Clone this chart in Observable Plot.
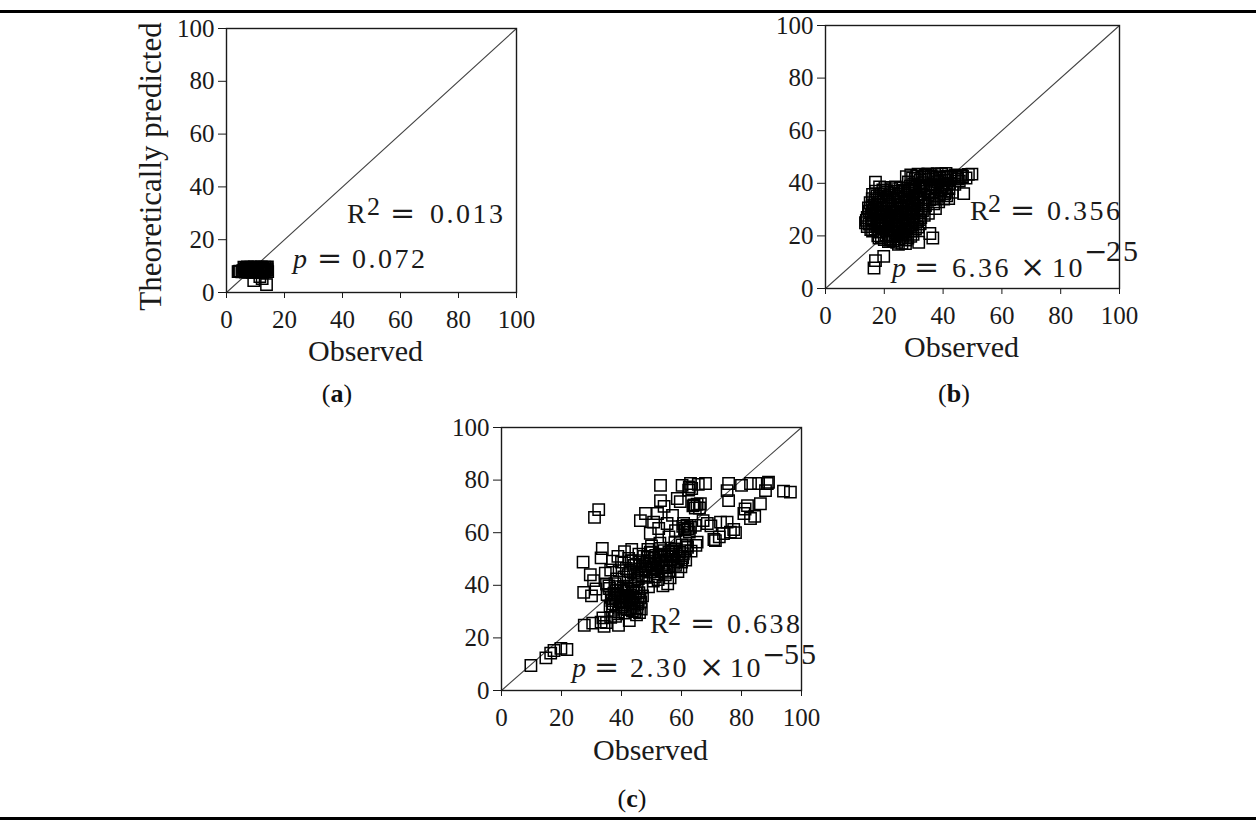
<!DOCTYPE html>
<html>
<head>
<meta charset="utf-8">
<script src="https://cdn.jsdelivr.net/npm/d3@7"></script>
<script src="https://cdn.jsdelivr.net/npm/@observablehq/plot@0.6"></script>
<style>
  html, body { margin: 0; padding: 0; background: #fff; }
  #fig { position: relative; width: 1256px; height: 832px; overflow: hidden; font-family: "Liberation Serif", serif; color: #111; }
  .rule { position: absolute; left: 0; width: 1256px; height: 3px; background: #000; z-index: 10; }
  .cap { position: absolute; font-size: 26px; line-height: 1; transform: translateX(-50%); white-space: nowrap; z-index: 5; }
  .panel { position: absolute; }
  .panel svg { overflow: visible; }
</style>
</head>
<body>
<div id="fig">
  <div class="panel" id="pa"></div>
  <div class="panel" id="pb"></div>
  <div class="panel" id="pc"></div>
  <div class="rule" style="top:10px"></div>
  <div class="rule" style="top:817px"></div>
  <div class="cap" id="capa"></div>
  <div class="cap" id="capb"></div>
  <div class="cap" id="capc"></div>
</div>
<script>
// ---------------- DATA ----------------
const tickValues = [0, 20, 40, 60, 80, 100];
const identityLine = [0, 100];
const xTitle = "Observed";
const yTitle = "Theoretically predicted";
const panelLetters = ["a", "b", "c"];
const r2Values = ["0.013", "0.356", "0.638"];
const pMantissa = ["0.072", "6.36", "2.30"];
const pExponent = [null, "25", "55"];

// Panel (a)
const aObs = [4.0,4.6,5.3,5.9,6.5,7.1,7.7,8.3,8.9,9.5,10.1,10.7,11.3,11.9,12.5,13.1,13.7,14.2,
  4.3,5.6,6.2,6.8,7.4,8.0,8.6,9.2,9.8,10.4,11.0,11.6,12.2,12.8,13.4,14.0,
  6.0,6.6,7.2,7.8,8.4,9.0,9.6,10.2,10.8,11.4,12.0,12.6,13.2,13.8,14.1,
  9.4,12.3,13.8,11.5];
const aPred = [7.9,8.1,7.8,8.2,7.7,8.0,7.6,8.1,7.6,7.9,7.6,8.0,7.6,7.9,7.6,8.0,7.7,7.9,
  8.0,8.3,8.8,8.5,9.0,8.6,8.9,8.4,8.8,8.5,9.0,8.6,8.9,8.4,8.8,8.6,
  9.6,9.3,9.7,9.2,9.6,9.3,9.7,9.2,9.6,9.3,9.7,9.2,9.6,9.4,9.7,
  4.5,5.3,3.0,6.0];

// Panel (b)
const bObs = [17.0,13.6,14.2,17.0,16.5,19.8,31.7,35.5,36.5,27.2,22.0,47.0,49.8,46.2,42.6,38.0,41.9,37.4,33.4,
  27.5,29.0,30.5,31.5,32.8,34.0,35.2,36.0,37.2,38.8,39.5,40.6,41.5,43.5,44.8,45.5,28.2,30.0,33.0,35.8,38.2,40.0,42.2,44.0,47.8,
  28.5,30.2,31.8,33.5,34.8,36.4,37.8,39.2,40.5,42.0,43.2,31.0,32.5,34.0,35.5,36.8,38.5,40.2,29.8,31.2,33.0,35.0,
  19.5,21.0,22.5,24.0,25.5,27.0,20.2,23.2,
  16.8,18.2,19.8,21.4,22.8,24.4,25.8,27.2,28.6,30.0,17.5,
  15.8,17.2,18.6,20.0,21.5,23.0,24.5,26.0,27.5,29.0,16.2,
  15.5,17.0,18.4,19.8,21.2,22.6,24.1,25.6,27.0,28.4,30.0,31.6,
  14.8,16.4,17.8,19.2,20.6,22.1,23.6,25.0,26.5,28.0,29.4,31.0,
  16.8,18.2,19.6,21.0,22.4,23.8,25.2,26.6,28.0,29.6,
  19.0,20.6,22.2,23.6,25.0,26.4,28.0,24.2,21.4,26.0,
  16.0,18.9,21.8,24.8,27.8,29.4,26.2,
  15.2,17.8,20.7,23.7,26.7,29.6,31.4,
  14.9,17.7,20.6,23.5,26.4,29.3,31.0,32.4,
  15.6,18.5,21.6,24.4,27.4,30.2,32.2,
  15.4,17.4,20.3,23.1,26.0,28.8,30.6,
  17.8,21.6,24.6,27.2,29.0,23.0,
  17.0,18.4,20.9,23.8,26.6,28.9,30.8,
  15.9,18.9,21.2,24.9,27.6,29.3,32.2,
  14.6,16.6,19.3,22.2,25.3,28.2,30.4,32.6,
  14.2,16.2,19.1,21.9,24.8,27.7,29.6,33.6,
  13.9,15.9,18.9,21.4,24.2,27.1,29.8,32.0,
  16.0,18.8,21.6,24.4,27.2,29.0,31.4,
  18.2,20.0,22.8,25.6,27.4,29.8,24.8,
  29.6,31.0,32.2,33.6,34.8,36.6,37.8,39.0,40.2,41.0,42.8,44.2,45.0,46.6,48.6,
  30.6,32.4,34.2,36.0,37.4,39.6,41.2,32.0,33.8,35.4,37.0,38.8,40.8,41.2];
const bPred = [40.4,25.0,23.5,10.6,7.8,12.2,17.6,20.9,19.2,17.1,18.3,36.1,43.5,43.0,42.8,43.7,34.2,30.4,32.8,
  42.5,43.2,41.8,43.5,42.4,43.0,41.5,42.8,43.4,42.0,43.6,41.2,42.6,41.8,42.3,40.8,40.5,39.8,40.2,39.5,40.6,39.2,40.0,39.6,42.0,
  37.5,36.8,38.2,37.0,35.5,36.9,35.2,37.4,36.0,38.0,36.6,34.5,33.0,31.5,33.8,32.2,33.0,34.0,32.0,30.5,29.5,28.6,
  37.5,36.5,38.0,37.0,38.2,36.8,38.4,36.2,
  33.5,34.5,33.2,34.8,33.6,34.4,33.0,34.6,33.4,35.0,35.2,
  31.0,30.2,31.8,30.6,31.5,30.2,31.8,30.5,31.6,30.0,29.5,
  27.8,28.6,27.2,28.8,27.5,28.6,27.2,28.4,27.0,28.2,27.5,28.8,
  24.5,25.6,24.2,25.8,24.6,25.5,24.0,25.8,24.5,25.6,24.2,25.4,
  22.6,21.5,23.0,21.8,22.8,21.2,22.6,21.5,23.0,21.8,
  19.5,20.4,19.0,20.0,18.8,19.8,19.2,17.6,17.8,17.2,
  35.8,36.0,35.6,36.0,35.6,37.8,37.4,
  32.6,32.2,32.6,32.2,32.4,32.6,33.8,
  29.4,29.0,29.4,29.0,29.4,29.0,30.2,27.0,
  26.4,26.0,26.4,26.0,26.4,26.0,24.6,
  22.4,23.8,23.8,23.6,23.6,24.0,22.6,
  20.0,20.2,21.0,20.6,19.8,18.2,
  37.0,38.6,37.2,38.6,37.0,38.9,37.1,
  34.2,35.1,33.7,35.2,33.2,34.0,35.6,
  30.6,31.8,30.8,31.2,30.6,30.8,31.4,30.2,
  27.0,28.2,27.8,28.0,27.8,28.8,28.4,27.8,
  25.9,24.8,25.0,25.0,25.2,25.0,25.0,26.2,
  21.8,22.6,22.4,22.4,22.0,22.8,23.4,
  19.2,18.6,19.6,20.4,18.4,20.6,16.8,
  42.0,42.8,41.2,42.2,43.6,41.8,42.4,41.0,42.4,43.8,42.2,43.2,41.6,42.6,43.4,
  39.0,38.6,39.0,38.0,38.8,38.6,39.4,36.0,34.6,36.4,34.0,35.8,37.0,35.2];

// Panel (c)
const cObs = [9.8,14.8,16.4,17.5,19.8,21.8,
  27.6,30.4,33.8,34.2,35.0,39.0,42.6,36.4,33.2,38.0,45.0,
  27.4,27.2,31.0,32.4,33.6,33.2,34.6,30.7,31.5,30.0,35.0,29.6,
  35.2,36.0,36.8,37.5,38.2,38.8,39.5,40.2,40.8,41.5,42.0,42.8,43.4,44.0,44.6,45.2,45.8,46.4,47.0,37.0,39.0,41.2,43.6,46.0,36.2,38.0,40.0,42.2,44.2,46.8,35.8,37.8,39.8,41.8,43.8,45.6,
  36.6,37.2,38.6,39.2,40.4,41.0,41.6,42.6,43.0,43.8,44.8,45.4,46.2,46.6,38.2,40.6,44.4,39.6,37.6,
  38.4,39.2,40.0,40.8,41.6,42.4,43.2,44.0,44.8,45.6,46.4,47.2,41.0,43.4,45.8,38.8,37.0,36.4,42.2,46.8,
  42.8,44.2,45.2,46.0,47.0,48.4,49.8,50.8,51.6,52.4,53.2,54.0,55.4,56.0,57.2,58.6,59.4,60.0,44.6,43.2,
  47.8,48.6,49.4,50.2,51.0,51.8,52.6,53.4,54.2,55.0,55.8,56.6,57.4,58.2,59.0,59.8,60.6,61.4,62.0,48.2,50.6,52.2,54.6,56.2,50.0,52.8,48.8,57.8,60.2,63.2,64.8,53.8,49.0,55.4,
  48.0,49.2,50.4,51.4,52.0,53.0,54.4,55.2,56.4,57.0,58.0,59.2,60.4,61.2,47.4,49.6,51.2,53.6,55.8,58.8,
  46.3,48.0,50.7,52.0,53.0,53.0,55.2,58.6,60.2,60.7,63.0,63.0,66.3,68.0,68.6,61.9,65.2,57.4,53.0,62.4,64.2,66.0,61.2,62.6,64.6,58.0,55.8,52.4,49.6,57.0,54.2,59.6,65.6,67.2,69.8,70.8,
  60.4,61.0,61.8,62.2,63.8,64.6,65.2,62.6,63.4,
  71.3,73.0,74.0,75.2,75.2,75.7,75.7,76.3,77.4,80.8,82.0,83.0,83.0,85.7,86.3,88.0,88.6,94.0,96.3,89.0,81.2,84.4,80.0,78.0,72.6];
const cPred = [9.5,12.4,14.2,15.2,16.0,15.6,
  24.8,25.6,27.6,24.4,25.8,24.8,26.6,27.8,26.0,28.2,28.8,
  37.3,48.8,65.8,68.8,54.0,50.4,44.6,41.8,38.6,36.0,40.5,44.0,
  36.5,38.8,34.2,37.0,32.8,39.5,35.5,31.8,37.8,34.0,30.8,36.2,33.2,39.0,35.0,31.5,37.2,33.6,36.0,30.5,29.8,29.4,30.2,29.6,32.0,35.0,33.4,38.4,32.4,39.2,39.8,40.6,38.2,36.0,37.6,34.4,
  35.4,33.0,36.6,31.2,35.8,32.6,38.8,34.6,31.6,35.6,37.0,33.0,35.2,31.0,38.0,39.6,30.0,33.8,36.2,
  42.4,45.6,48.8,43.2,46.4,50.2,41.4,44.8,48.0,42.6,46.2,49.4,52.8,53.6,51.8,51.0,49.2,45.8,44.0,43.8,
  45.2,47.6,44.2,48.8,45.6,48.2,47.8,50.2,46.4,48.6,51.4,47.8,51.0,47.2,50.8,49.0,52.6,48.8,42.0,49.4,
  47.2,50.6,45.0,52.4,48.2,44.4,50.8,47.0,53.2,49.2,45.6,51.6,48.4,53.8,50.2,47.0,52.0,49.6,54.4,43.0,41.6,42.2,44.0,42.8,55.0,56.0,53.6,56.2,55.4,53.0,55.2,39.8,39.4,40.6,
  46.0,49.0,46.8,51.4,45.2,49.4,51.8,46.6,49.8,53.0,47.6,51.2,50.4,53.2,51.0,52.6,43.2,45.4,52.6,45.2,
  64.6,67.3,64.0,67.3,72.2,78.0,63.5,73.0,78.0,63.5,78.7,62.0,71.0,78.7,63.5,55.1,56.4,53.2,54.0,76.2,70.6,69.4,61.0,60.2,62.8,60.8,58.4,61.6,59.8,66.6,70.0,71.8,78.4,64.6,62.6,57.4,
  62.4,61.6,62.8,61.4,70.2,69.4,70.8,77.4,76.8,
  57.0,64.0,59.7,64.0,76.0,72.2,78.7,60.2,61.2,67.3,70.3,65.4,78.7,78.7,71.0,76.0,78.7,75.8,75.4,79.2,69.0,66.2,78.0,60.0,58.4];

// ---------------- LAYOUT ----------------
const layouts = [
  { el: "#pa", left: 110, top: 0, width: 430, height: 380, mL: 116, mT: 28, mR: 24, mB: 88,
    xLabelDx: -6, xLabelDy: 68, yLabel: true,
    rAt: [41.7, 26.0], rOff: [0, 20, 43, 83], pAt: [23.1, 9.1], pOff: [0, 24, 59], expDy: 0,
    cap: [337, 381] },
  { el: "#pb", left: 710, top: 0, width: 440, height: 380, mL: 115, mT: 25, mR: 31, mB: 92,
    xLabelDx: -11, xLabelDy: 68, yLabel: false,
    rAt: [49.3, 25.9], rOff: [0, 18, 40, 77], pAt: [22.8, 4.2], pOff: [0, 22, 60, 128, 160, 192, 214], expDy: -16,
    cap: [954, 381] },
  { el: "#pc", left: 390, top: 400, width: 440, height: 380, mL: 111, mT: 27, mR: 29, mB: 90,
    xLabelDx: -1, xLabelDy: 69, yLabel: false,
    rAt: [49.7, 21.7], rOff: [0, 18, 40, 77], pAt: [23.7, 4.9], pOff: [0, 22, 58, 127, 158, 190, 212], expDy: -13,
    cap: [632, 786] }
];

const series = [[aObs, aPred], [bObs, bPred], [cObs, cPred]];
const INK = "#1a1a1a";

series.forEach(([obs, pred], k) => {
  const L = layouts[k];
  const data = obs.map((x, i) => ({ x, y: pred[i] }));
  const marks = [
    Plot.line(identityLine, { x: d => d, y: d => d, stroke: "#444", strokeWidth: 1.1 }),
    Plot.dot(data, { x: "x", y: "y", symbol: "square", r: 6.4, fill: "none", stroke: "#000", strokeWidth: 1.5 }),
    Plot.frame({ stroke: INK, strokeWidth: 1.4 }),
    Plot.text([xTitle], { frameAnchor: "bottom", lineAnchor: "bottom", textAnchor: "middle", dx: L.xLabelDx, dy: L.xLabelDy, text: d => d, fontSize: 30, fill: INK })
  ];
  if (L.yLabel) {
    marks.push(Plot.text([yTitle], { frameAnchor: "left", rotate: -90, textAnchor: "middle", lineAnchor: "bottom", dx: -66, dy: 6, text: d => d, fontSize: 31, fill: INK }));
  }
  const plot = Plot.plot({
    width: L.width, height: L.height,
    marginLeft: L.mL, marginTop: L.mT, marginRight: L.mR, marginBottom: L.mB,
    style: { fontFamily: "'Liberation Serif', serif", fontSize: "25px", color: INK, background: "transparent", overflow: "visible" },
    x: { domain: [0, 100], ticks: tickValues, tickSize: 6, tickPadding: 12, label: null },
    y: { domain: [0, 100], ticks: tickValues, tickSize: 8, tickPadding: 4, label: null },
    marks
  });
  const host = document.querySelector(L.el);
  host.style.left = L.left + "px";
  host.style.top = L.top + "px";
  host.appendChild(plot);

  // annotations, placed through the plot's own scales
  const sx = plot.scale("x"), sy = plot.scale("y");
  const svg = d3.select(plot);
  const g = svg.append("g").attr("fill", INK).attr("text-anchor", "start");
  function seg(x, y, t, o = {}) {
    g.append("text").attr("x", x).attr("y", y)
      .attr("text-anchor", "start")
      .attr("font-family", o.font || "'Liberation Serif', serif")
      .attr("font-size", o.size || 28)
      .attr("font-style", o.italic ? "italic" : null)
      .attr("letter-spacing", o.ls || null)
      .text(t);
  }
  const rx = sx.apply(L.rAt[0]), ry = sy.apply(L.rAt[1]);
  seg(rx + L.rOff[0], ry, "R");
  seg(rx + L.rOff[1], ry - 8, "2", { size: 26 });
  seg(rx + L.rOff[2], ry, "=", { font: "'DejaVu Serif', serif", size: 30 });
  seg(rx + L.rOff[3], ry, r2Values[k], { ls: 2.5 });

  const px = sx.apply(L.pAt[0]), py = sy.apply(L.pAt[1]);
  seg(px + L.pOff[0], py, "p", { italic: true });
  seg(px + L.pOff[1], py, "=", { font: "'DejaVu Serif', serif", size: 30 });
  seg(px + L.pOff[2], py, pMantissa[k], { ls: 2.5 });
  if (pExponent[k]) {
    seg(px + L.pOff[3], py, "×", { font: "'DejaVu Serif', serif", size: 30 });
    seg(px + L.pOff[4], py, "10", { ls: 2.5 });
    seg(px + L.pOff[5], py + L.expDy, "−", { font: "'DejaVu Serif', serif", size: 28 });
    seg(px + L.pOff[6], py + L.expDy, pExponent[k], { size: 30, ls: 2 });
  }

  const cap = document.querySelector("#cap" + panelLetters[k]);
  cap.style.left = L.cap[0] + "px";
  cap.style.top = L.cap[1] + "px";
  cap.innerHTML = "(<b>" + panelLetters[k] + "</b>)";
});
</script>
</body>
</html>
